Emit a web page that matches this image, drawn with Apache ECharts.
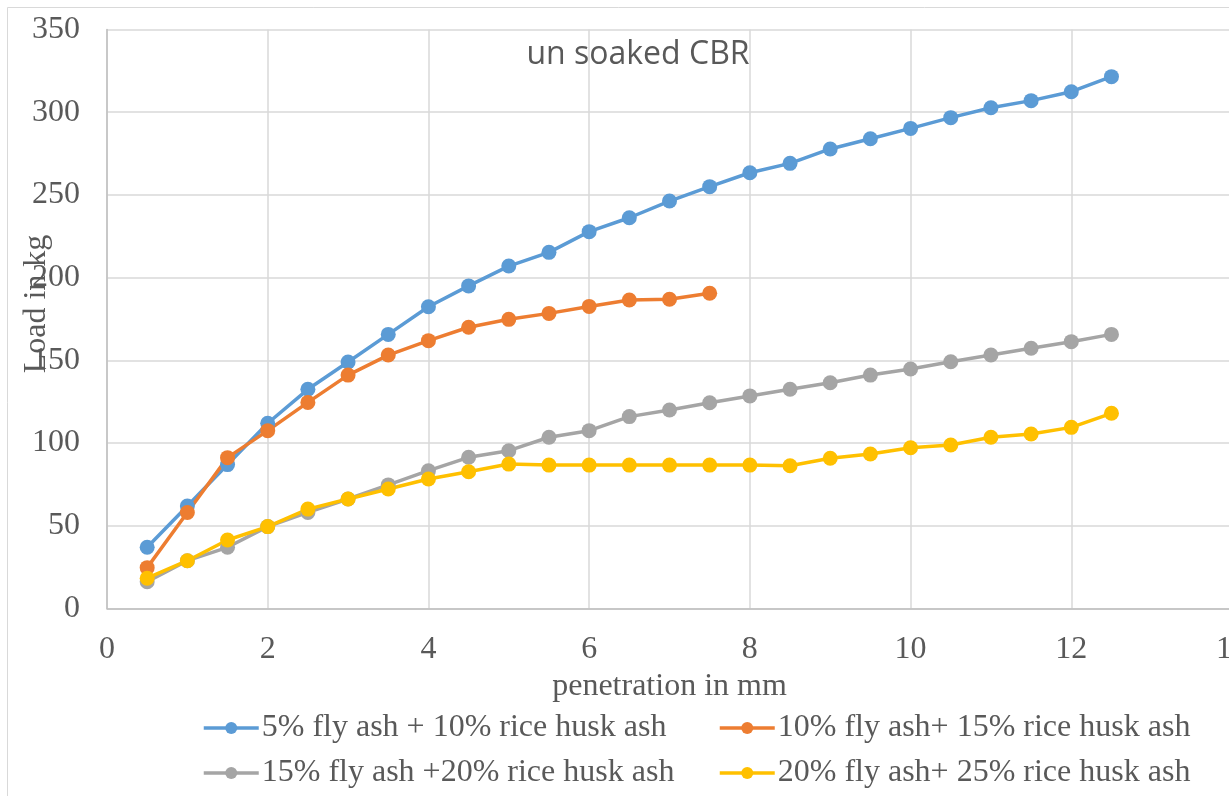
<!DOCTYPE html>
<html>
<head>
<meta charset="utf-8">
<script src="https://cdn.jsdelivr.net/npm/echarts@6/dist/echarts.min.js"></script>
<style>html,body{margin:0;padding:0;background:#fff}#c{width:1229px;height:796px}</style>
</head>
<body>
<div id="c"></div>
<script>
const penetration = [0.5,1,1.5,2,2.5,3,3.5,4,4.5,5,5.5,6,6.5,7,7.5,8,8.5,9,9.5,10,10.5,11,11.5,12,12.5];
const seriesNames = [
  "5% fly ash + 10% rice husk ash",
  "10% fly ash+ 15% rice husk ash",
  "15% fly ash +20% rice husk ash",
  "20% fly ash+ 25% rice husk ash"
];
const load5FA10RHA = [37,62,87,112,132.5,149,165.7,182.4,195,207,215.3,227.8,236.2,246.3,255,263.4,269.1,277.8,284,290.2,296.7,302.7,307,312.4,321.5];
const load10FA15RHA = [24.7,58,91.2,107.5,124.6,141.1,153.2,161.9,170,174.8,178.4,182.6,186.5,186.9,190.6];
const load15FA20RHA = [16.2,28.9,37,49.5,58.1,66.2,74.7,83.3,91.4,95.4,103.5,107.5,116,120,124.4,128.5,132.5,136.5,141.1,144.8,149.2,153.2,157.3,161.3,165.7];
const load20FA25RHA = [18.3,28.9,41.4,49.5,60.1,66.2,72.2,78.3,82.7,87.3,86.7,86.7,86.7,86.7,86.7,86.7,86.3,90.8,93.4,97.2,98.8,103.5,105.5,109.5,118];
const colors = ["#5B9BD5","#ED7D31","#A5A5A5","#FFC000"];
const xTicks = {min:0,max:14,interval:2};
const yTicks = {min:0,max:350,interval:50};

const allData = [load5FA10RHA, load10FA15RHA, load15FA20RHA, load20FA25RHA];
const serif = "'Liberation Serif','Times New Roman',serif";
const textColor = "#595959";
const fs = 32;

const legendCommon = {orient:'vertical',top:712,itemGap:13,itemWidth:55,itemHeight:15,padding:0,
  lineStyle:{width:3.5},
  textStyle:{fontFamily:serif,fontSize:fs,color:textColor,padding:[0,0,0,-2]}};

const chart = echarts.init(document.getElementById('c'), null, {renderer:'canvas'});
chart.setOption({
  animation:false,
  backgroundColor:'#fff',
  color:colors,
  title:{
    text:'un soaked CBR',
    left:633, top:34, textAlign:'center',
    textStyle:{fontFamily:"'Open Sans',sans-serif",fontSize:32,fontWeight:'normal',color:textColor}
  },
  graphic:[
    {type:'rect',shape:{x:7.5,y:7.5,width:1400,height:1000},style:{fill:'none',stroke:'#D9D9D9',lineWidth:1},z:-10},
    {type:'text',x:37,y:304,rotation:Math.PI/2,
     style:{text:'Load in kg',font:fs+"px 'Liberation Serif'",fill:textColor,align:'center',verticalAlign:'middle'}}
  ],
  legend:[
    Object.assign({left:202,data:[seriesNames[0],seriesNames[2]]}, legendCommon),
    Object.assign({left:718,data:[seriesNames[1],seriesNames[3]]}, legendCommon)
  ],
  grid:{left:107,right:-3,top:29.5,bottom:187.5,outerBoundsMode:'none',containLabel:false},
  xAxis:{
    type:'value',min:xTicks.min,max:xTicks.max,interval:xTicks.interval,
    name:'penetration in mm',nameLocation:'middle',nameGap:62,
    nameTextStyle:{fontFamily:serif,fontSize:fs,color:textColor},
    axisLine:{lineStyle:{color:'#BFBFBF',width:1.5}},
    axisTick:{show:false},
    axisLabel:{fontFamily:serif,fontSize:fs,color:textColor,margin:25,hideOverlap:false},
    splitLine:{show:true,lineStyle:{color:'#D9D9D9',width:1.5}}
  },
  yAxis:{
    type:'value',min:yTicks.min,max:yTicks.max,interval:yTicks.interval,
    axisLine:{show:true,lineStyle:{color:'#BFBFBF',width:1.5}},
    axisTick:{show:false},
    axisLabel:{fontFamily:serif,fontSize:fs,color:textColor,margin:27},
    splitLine:{show:true,lineStyle:{color:'#D9D9D9',width:1.5}}
  },
  series: allData.map((d,i)=>({
    name:seriesNames[i],
    type:'line',
    data:d.map((v,j)=>[penetration[j],v]),
    symbol:'circle',symbolSize:15,
    lineStyle:{width:3.5,color:colors[i]},
    itemStyle:{color:colors[i]}
  }))
});
</script>
</body>
</html>
